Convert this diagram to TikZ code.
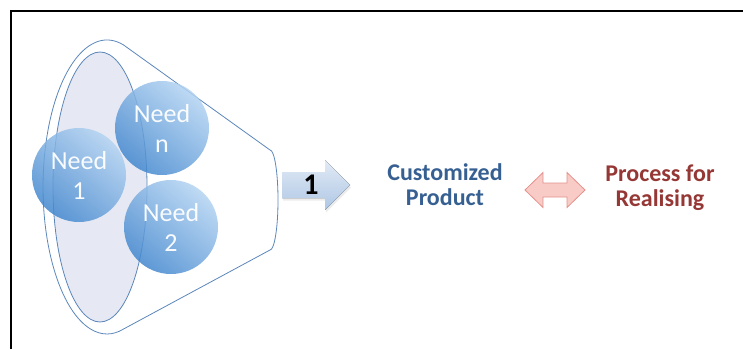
\documentclass[tikz,border=0pt]{standalone}
\usepackage{fontspec}
\setmainfont{Carlito}
\usetikzlibrary{calc}
\usetikzlibrary{shadows}
\definecolor{funnelline}{HTML}{5B86BA}
\definecolor{funnelfill}{HTML}{E6E9F3}
\definecolor{balldark}{HTML}{4287CE}
\definecolor{balllight}{HTML}{B3D3F2}
\definecolor{arrowtop}{HTML}{E2EAF5}
\definecolor{arrowbot}{HTML}{AEC7E5}
\definecolor{prodblue}{HTML}{376092}
\definecolor{procred}{HTML}{953735}
\definecolor{pinkfill}{HTML}{F8CBC7}
\definecolor{pinkline}{HTML}{E4928B}
\tikzset{
  needball/.style={circle, minimum size=94pt, inner sep=0pt, top color=balllight, bottom color=balldark,
    shading angle=-40, fill opacity=0.85, text opacity=0.95, text=white, align=center,
    font=\fontsize{26}{30}\selectfont},
  bigtext/.style={align=center, font=\bfseries\fontsize{24}{25}\selectfont},
}
\newcommand{\needball}[4]{\node[needball] (#1) at ( #2 , #3 ) {Need\\#4};}

\begin{document}
\begin{tikzpicture}[x=1pt,y=1pt]
        \useasboundingbox (0,0) rectangle (743,349);
        \draw[line width=1.6pt] (11,0) -- (11,338) -- (743,338);

        % funnel
        \fill[funnelfill] (100,162) ellipse [x radius=47, y radius=135];
        \draw[funnelline, line width=0.8pt] (270,199) -- (123.6,304)
            arc[start angle=75, end angle=285, x radius=64, y radius=147] -- (270,99)
            arc[start angle=-90, end angle=90, x radius=8, y radius=50] -- cycle;
        \draw[funnelline, line width=0.8pt] (100,162) ellipse [x radius=47, y radius=135];

        % needs
        \needball{needn}{162}{221}{n}
        \needball{needtwo}{171}{122}{2}
        \needball{needone}{79}{174}{1}

        % arrow 1
        \fill[drop shadow={opacity=0.15, shadow xshift=1pt, shadow yshift=-2.5pt},
            top color=arrowtop, bottom color=arrowbot]
            (282,151) -- (325,151) -- (325,139) -- (350,164) -- (325,189) -- (325,177) -- (282,177) -- cycle;
        \node[font=\bfseries\fontsize{30}{30}\selectfont] (one) at (311,164) {1};

        % texts
        \node[bigtext, text=prodblue] (prod) at (445,164) {Customized\\Product};
        \node[bigtext, text=procred] (proc) at (660,161.5) {Process for\\Realising};

        % double arrow
        \coordinate (lefttip) at (525,159);
        \coordinate (righttip) at (585,159);
        \draw[pinkline, fill=pinkfill, line width=0.8pt] (lefttip) -- ++(18,17.5) -- ++(0,-10.5)
            -- ($(righttip)+(-18,7)$) -- ++(0,10.5) -- (righttip) -- ++(-18,-17.5) -- ++(0,10.5)
            -- ($(lefttip)+(18,-7)$) -- ++(0,-10.5) -- cycle;
    \end{tikzpicture}
\end{document}
